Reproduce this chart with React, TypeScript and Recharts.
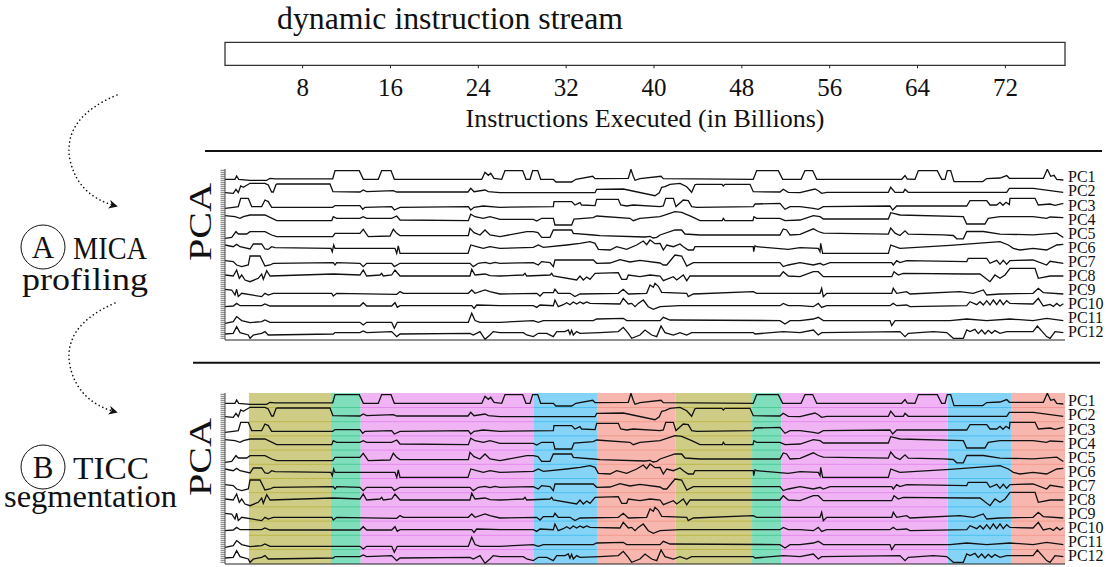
import React from 'react'
import { ComposedChart, Line, XAxis, YAxis, ReferenceArea, ReferenceLine } from 'recharts'

const SERIF = 'Liberation Serif, DejaVu Serif, Noto Serif, Times New Roman, Times, serif'

// instructions executed, in billions
const X_MIN = 0.93
const X_MAX = 77.43
const X_TICKS = [8, 16, 24, 32, 40, 48, 56, 64, 72]

const PC_NAMES = ['PC1', 'PC2', 'PC3', 'PC4', 'PC5', 'PC6', 'PC7', 'PC8', 'PC9', 'PC10', 'PC11', 'PC12']

// PCA traces, [billions, score] breakpoints
const PC1 = [[0.93,0],[1.84,0],[1.99,3.3],[2.18,0],[3.21,-1],[4.73,-1],[5.03,1],[5.48,0.5],[10.74,0.5],[10.95,8.7],[13.16,8.7],[13.53,0],[14.89,0],[15.2,8.7],[16.05,8.7],[16.35,0],[24.31,0],[24.61,7],[24.91,4],[25.13,6],[25.43,1],[26.13,0],[26.43,8.7],[28.04,8.7],[28.34,0],[28.71,0],[28.95,8.7],[29.41,8.7],[29.68,0],[30.83,0],[31.07,-2.7],[32.5,-2.7],[32.89,0],[34.42,3],[34.63,0.7],[37.66,1],[37.9,10],[38.11,3],[38.27,-1],[38.73,0.7],[40.64,3],[40.85,0.7],[49.04,0],[49.35,8.7],[51.32,8.7],[51.72,0],[53.39,0],[53.75,8.7],[54.45,8.7],[54.82,0],[62.56,0],[62.86,3.7],[63.07,0.3],[63.77,0],[64.07,8.7],[65.8,8.7],[66.2,0],[66.5,0],[66.71,8.7],[67.02,8.7],[67.32,-2.3],[69.94,-2.3],[70.3,0.7],[71.51,1.3],[72.12,3.7],[72.36,1],[75.46,1],[75.82,10],[76.13,3],[76.43,4],[76.68,0],[77.28,-0.7]]
const PC2 = [[0.93,-0.7],[1.68,-1.3],[1.93,2.7],[2.14,-0.7],[2.36,6],[2.6,4.7],[3.21,8.7],[4.57,8.7],[4.87,7],[5.18,0],[5.33,0],[5.57,7.3],[5.66,8],[10.49,8],[10.76,0.3],[13.22,0],[13.52,2],[13.83,0.3],[16.26,1.3],[16.57,0],[23.06,0],[23.31,3.7],[23.61,0.3],[24.61,2],[24.91,0.3],[25.97,-0.7],[34.63,-0.7],[34.78,2.7],[37.2,3],[40.09,-3.7],[40.48,-0.7],[40.7,4.7],[41.0,5.3],[41.46,7.7],[42.37,8.7],[42.98,5.3],[43.43,-0.3],[43.73,7.3],[43.89,7.7],[46.19,7.7],[46.31,6],[46.46,7.7],[48.74,7.7],[49.04,0.3],[51.47,0],[51.77,2.7],[52.23,-0.3],[53.3,-0.7],[54.66,3],[54.96,1.3],[55.27,-1.3],[55.73,-0.3],[61.34,-0.3],[61.56,4.7],[61.95,-0.3],[62.7,-0.3],[62.86,2.7],[63.16,-0.3],[72.12,-0.3],[72.36,3.7],[74.54,3.7],[77.27,-0.3]]
const PC3 = [[0.93,-1],[1.68,0],[2.14,0.7],[2.36,9],[3.05,9],[3.36,0.7],[4.27,0.7],[4.57,7.3],[4.87,5.7],[5.18,0],[10.74,0],[10.95,1.7],[13.22,1.7],[13.47,-2],[13.68,0],[16.11,0.7],[16.35,-2.7],[16.87,0],[23.09,0.7],[23.31,-2.7],[23.61,0],[24.45,1.3],[25.97,0],[30.83,0.7],[30.89,5.7],[32.5,5.7],[32.8,2.3],[33.26,4.7],[33.41,2.3],[34.63,1.7],[34.78,8],[36.75,8],[36.97,2.3],[37.51,1.3],[38.11,2.3],[40.55,0.7],[40.85,1.3],[41.07,9],[41.76,9],[42.0,0.7],[42.67,7.3],[43.12,6.7],[43.43,0.7],[43.89,0],[49.04,0.7],[49.2,3.3],[51.47,4],[51.93,-2],[52.39,0.7],[53.3,0.7],[54.51,-1],[54.96,-2],[55.42,0.7],[61.49,1.3],[61.74,-2.7],[62.1,1.3],[68.48,1.3],[68.78,6.7],[70.3,6.7],[70.6,2.3],[71.21,2.3],[71.51,5],[71.78,2],[72.06,5],[72.36,2.7],[72.42,9],[74.7,9],[75.0,2.3],[76.07,3.3],[76.52,2],[77.28,4]]
const PC4 = [[0.93,4.3],[1.84,3.3],[2.3,1.7],[2.6,3.3],[3.21,5],[4.57,5],[5.64,-0.7],[10.65,-0.7],[10.79,3.3],[11.1,1.7],[13.22,1.7],[13.52,3.3],[13.83,1.7],[16.11,1.7],[16.57,4],[16.87,0],[23.09,-0.7],[23.31,5.7],[23.7,3.3],[24.45,1.7],[25.06,3.3],[25.97,0.7],[29.01,0.7],[29.32,-1],[29.77,1.7],[30.83,1.7],[30.98,-5],[32.5,-5],[32.71,1],[34.47,2.3],[34.78,4],[37.81,1.7],[38.11,-0.7],[38.72,1.7],[40.55,3.3],[41.91,8.3],[42.52,7.7],[43.43,3.3],[44.19,-0.7],[46.22,-0.7],[46.31,1.7],[46.46,-0.7],[49.01,-0.7],[49.1,3.3],[49.35,1.7],[51.47,1.7],[51.93,-0.7],[53.3,0],[54.51,4.3],[55.12,3.3],[55.42,1],[61.34,1],[61.56,7.3],[62.4,5],[68.17,3.3],[68.48,-4],[70.14,-4],[70.44,1.7],[71.51,3.3],[74.52,3.3],[75.76,1.7],[76.07,3],[77.28,2.3]]
const PC5 = [[0.93,-1],[1.54,0],[1.93,5.7],[2.14,3.3],[2.91,3.3],[3.21,5.7],[4.57,5.7],[5.18,2.3],[5.64,0.7],[10.74,0.7],[10.95,4],[13.22,4],[13.52,8],[13.98,0.7],[15.96,1.3],[16.26,8],[16.57,4],[16.87,1.7],[23.09,1.7],[23.24,9],[23.61,4.7],[24.15,2.3],[24.61,7.3],[25.06,2.3],[25.97,0.7],[28.41,5.7],[29.01,5.7],[29.43,4.7],[29.77,0],[30.53,0],[30.83,7.3],[32.5,7.3],[32.65,4],[34.47,2.3],[35.08,1.7],[39.18,0.3],[39.64,1],[39.91,-0.7],[40.25,0],[40.55,2.3],[41.91,7.3],[42.52,7.3],[42.82,3.3],[44.19,2.3],[51.47,2.3],[51.77,8.3],[52.08,7.3],[52.39,2.3],[53.3,3],[54.51,8.5],[54.96,5.8],[55.42,4.2],[61.34,3.2],[61.56,9.2],[61.95,4.2],[62.4,1.8],[62.86,6.5],[63.16,3.2],[66.35,2.5],[67.26,1.8],[67.57,-1.5],[68.17,-1.5],[68.48,5.8],[69.99,5.8],[71.51,3.2],[74.52,2.5],[76.68,4.2],[77.28,-0.2]]
const PC6 = [[0.93,3.7],[1.68,2],[1.99,4.3],[2.3,2],[3.21,-0.3],[3.51,4.7],[4.27,4.7],[4.57,-0.3],[4.87,-0.7],[5.18,2],[5.48,1],[10.58,0.3],[10.7,-3],[10.83,3.7],[10.95,0.3],[16.41,0.3],[16.57,-4.7],[16.71,2.7],[16.87,-4.7],[23.06,-4.7],[23.31,3.7],[23.85,2],[24.45,0.3],[25.06,2],[25.97,0.3],[29.01,1.3],[29.46,3.7],[29.92,1.3],[32.05,3.7],[33.26,5.3],[34.17,7],[34.63,5.3],[34.93,-0.7],[35.99,-1.3],[36.6,2],[37.51,-0.7],[38.42,3.7],[39.02,7.7],[39.33,4],[39.64,8.7],[40.09,5],[40.55,5.3],[40.85,-1.3],[41.16,3.7],[41.76,2],[42.37,4.7],[42.67,2],[43.12,-1.3],[43.58,-1.3],[43.73,2],[49.04,2],[49.08,-3],[49.2,3],[49.35,2],[52.23,-0.7],[53.3,1],[54.96,0.3],[55.12,-3],[55.18,5.3],[55.36,-4.7],[55.57,-4.7],[61.34,-4.7],[61.56,3.7],[61.95,2],[62.4,0.3],[66.96,3.3],[71.51,7],[72.27,3.7],[72.72,0.3],[73.33,-1.3],[74.52,0.3],[75.76,-1.3],[76.68,3.7],[77.28,4.3]]
const PC7 = [[0.93,2.7],[1.68,1.7],[1.99,-1.7],[2.45,-3.3],[3.05,-1.7],[3.21,7.3],[4.12,7.3],[4.57,-2.7],[5.03,-1.7],[5.33,0],[10.79,0.7],[10.95,-1.7],[11.1,0.7],[13.22,0],[13.52,-3.3],[13.83,0],[16.11,0],[16.35,-3.3],[16.87,0],[23.24,0],[23.54,-3.3],[24.0,0],[24.61,1],[25.06,-0.3],[25.52,1],[25.97,0],[29.01,0.7],[29.46,-1.7],[29.77,1.7],[30.53,0.7],[30.83,-3.3],[30.98,3.3],[34.47,3.3],[34.78,0],[35.99,0.3],[36.9,3.7],[37.81,1.3],[38.72,3],[40.55,0.3],[40.85,-1.7],[41.16,-1.7],[41.91,8.3],[42.52,7.3],[42.98,-2.7],[43.58,0.7],[51.47,0.7],[51.77,-3.3],[52.23,-1.7],[53.3,0.7],[54.51,-1.7],[55.12,0],[55.42,-1.7],[56.03,0.7],[61.65,0.7],[61.79,-1.7],[62.1,2.7],[62.4,0.7],[63.01,2.7],[68.48,1.7],[68.62,5],[70.3,5],[70.6,0],[71.21,3],[71.51,-1],[71.81,3],[72.12,-1],[72.42,2.7],[74.52,3.3],[75.76,-1.7],[76.07,2],[77.28,0]]
const PC8 = [[0.93,1],[1.68,0],[1.99,6],[2.23,-2.3],[2.45,1],[2.75,-4],[3.21,-5.7],[3.96,-2.3],[4.27,2],[4.42,-3.3],[4.73,5.3],[5.03,0],[10.79,2],[13.22,1],[13.52,6],[13.83,0],[15.05,1],[15.2,2.7],[15.35,0],[16.11,1],[16.41,6],[16.87,0],[23.24,0],[23.4,6.7],[23.7,1],[24.61,2],[25.06,0.3],[25.97,0],[28.1,1],[28.25,2.7],[28.41,0],[30.53,1],[30.68,2.7],[30.83,0],[32.96,-4],[33.26,0],[33.56,-4],[33.87,-1],[34.17,-3.3],[34.63,2.7],[36.75,3.3],[37.06,-3.3],[37.51,-3.3],[37.66,1],[38.72,-0.7],[39.64,1],[40.55,0],[40.85,-4.7],[41.76,-0.7],[42.07,-4],[42.67,1],[42.98,-4.7],[43.28,0],[51.47,0],[51.77,4.3],[52.23,0],[53.3,-0.7],[54.51,4.3],[54.96,4.3],[55.42,-0.7],[61.65,-0.7],[61.86,4.3],[62.25,1],[62.7,2.7],[68.48,2],[69.69,2],[70.6,-5.7],[71.05,1],[71.51,-2.3],[71.97,1],[72.42,7.7],[74.7,7.7],[75.0,-2.3],[76.07,0],[77.28,0]]
const PC9 = [[0.93,4],[1.54,3.3],[1.84,-1.7],[1.99,4],[2.14,-3.3],[2.45,0],[4.27,-3.3],[4.57,0],[4.87,-1.7],[5.33,0],[10.65,0],[10.79,-2.7],[11.1,0],[16.57,-1],[16.87,1.7],[17.17,0],[23.09,0],[23.4,3.3],[23.7,0],[24.61,3.3],[25.06,1.7],[25.97,-0.7],[29.32,0],[29.62,-2.7],[29.92,0.7],[30.83,0.7],[30.98,4],[31.28,0],[32.35,0],[32.8,-3.3],[33.26,-0.7],[36.75,0],[37.2,4],[37.66,-0.7],[39.33,0],[39.64,8.3],[39.94,6],[40.09,10],[40.39,7],[40.7,1],[42.98,0],[43.12,-3.3],[43.58,-0.7],[49.04,1.7],[49.35,0],[53.3,0],[55.12,0],[55.27,5],[55.42,-3.3],[55.73,0],[61.65,0],[61.79,5],[62.1,0],[63.01,1.7],[63.31,-0.7],[67.87,1.7],[69.08,0],[69.99,3.3],[70.3,-1.7],[71.51,-0.7],[74.52,0],[75.0,5],[75.45,0.7],[77.28,-0.7]]
const PC10 = [[0.93,-1],[1.68,-0.3],[1.99,2.3],[2.3,0],[4.27,0],[4.57,1.7],[5.03,-0.3],[13.22,-0.3],[13.52,3],[13.83,-0.3],[16.11,-0.3],[16.41,3],[16.62,-1.7],[16.87,0],[23.4,0],[23.61,-2.7],[23.85,0.7],[25.97,0],[29.01,0],[29.32,-1.7],[29.62,0.7],[30.83,0],[30.98,5.7],[31.28,-1],[31.74,1],[32.05,3],[32.35,1],[32.65,3.7],[32.96,1.7],[33.26,3.7],[33.56,2],[33.87,3.7],[34.17,2.3],[36.9,1.7],[37.2,7.3],[37.66,1.7],[37.97,2.3],[38.27,-1],[38.57,2.3],[39.02,5.7],[39.48,-1],[39.94,-3.7],[40.55,-1],[42.37,0],[51.47,0],[51.77,2.3],[52.23,0],[53.3,0],[54.51,-1],[54.96,2.3],[55.27,-1.7],[55.73,0],[61.49,0],[61.79,2.3],[62.1,0],[63.01,0.7],[63.31,-1],[68.48,0],[68.78,4],[69.39,1],[69.69,4],[69.99,0.7],[70.3,5],[70.6,0.7],[70.9,5.7],[71.21,1],[71.51,5.7],[71.81,1],[72.12,5],[72.42,2.3],[74.52,1.7],[75.0,7.3],[75.45,-0.3],[76.07,1.3],[76.37,-0.7],[76.68,2.3],[76.97,-0.3],[77.28,2]]
const PC11 = [[0.93,-1],[1.68,0.7],[1.99,5.7],[2.45,1.7],[3.21,-0.3],[4.27,0.7],[4.57,2.3],[5.03,0],[13.22,0],[13.52,-2.7],[13.83,0],[16.11,0],[16.35,-6],[16.62,0],[23.09,0],[23.4,9],[23.7,1.7],[24.15,0],[25.97,0],[29.01,1.7],[29.46,0],[29.92,1.7],[34.47,1.7],[34.78,3.3],[37.2,4],[37.51,1.7],[40.55,1.7],[40.85,5],[41.46,2.3],[51.47,1.7],[51.93,-1.7],[52.39,1.7],[53.3,1.7],[54.51,3.3],[54.96,5],[55.42,1.7],[61.49,1.7],[61.65,-3.3],[61.95,1.7],[66.96,1.7],[68.48,3.3],[70.3,1.7],[72.42,3.3],[74.52,1.7],[75.76,4],[77.28,1.7]]
const PC12 = [[0.93,-0.7],[1.68,0],[1.99,6.7],[2.3,0.7],[3.05,-1.7],[3.21,-5],[3.51,-1.7],[4.27,0],[4.57,1.7],[4.87,-1.7],[10.79,-0.7],[10.95,0.7],[13.22,0.7],[13.52,2.3],[13.83,0.7],[16.11,1.7],[16.57,-3.3],[16.87,-0.7],[23.24,0],[23.54,-1.7],[24.15,1.7],[24.61,-6],[25.06,-1.7],[25.36,1.7],[25.97,0.7],[28.1,0.7],[28.41,-1.7],[29.01,-3.3],[29.46,0],[30.23,0],[30.83,-3.3],[31.14,1.7],[31.89,1.7],[32.2,3.3],[32.35,-1],[32.5,3],[32.65,-1.7],[32.96,1.7],[33.26,0],[35.08,0.7],[36.75,1.7],[37.2,6],[37.66,0],[37.97,-5],[38.72,-1.7],[39.18,3.3],[39.79,-1.7],[40.25,-3.3],[40.64,7.3],[41.0,0.7],[41.76,-1.7],[42.37,0.7],[42.98,-1.7],[43.43,0.7],[49.04,0.7],[49.2,-0.7],[51.77,1.7],[53.3,0.7],[54.51,3.3],[54.96,-1.7],[55.27,0.7],[62.4,1.7],[62.86,-3.3],[63.16,0],[65.44,1.7],[66.66,0.7],[67.26,-5],[68.17,-5],[68.48,3.3],[68.78,1.7],[69.23,4],[69.53,-0.3],[69.84,3.3],[70.14,-0.7],[70.44,3],[70.75,0],[71.05,2.7],[71.51,0],[72.12,1.7],[73.03,1.7],[74.52,1.7],[74.91,7.3],[75.76,-3.3],[76.07,-5],[76.52,1.7],[77.28,0.7]]
const PCS = [PC1, PC2, PC3, PC4, PC5, PC6, PC7, PC8, PC9, PC10, PC11, PC12]

// TICC segmentation: segment edges (billions) and the cluster of each segment
const SEG_EDGES = [3.11, 10.58, 13.29, 29.07, 34.81, 41.94, 48.93, 51.63, 66.75, 72.51, 77.43]
const SEG_CLUSTER = [0, 1, 2, 3, 4, 0, 1, 2, 3, 4]

// the instruction stream bar spans the whole run
const STREAM = [{ x: X_MIN, y: 0 }, { x: X_MAX, y: 1 }]

// layout / style
const CLUSTER_FILL = ['#cfcd85', '#7fdebc', '#f0b4f5', '#85d4f7', '#f8b7ae']
const CLUSTER_LINE = ['#bdb749', '#4fcb98', '#e58aee', '#4cc0f0', '#f29a8f']
const OFFSETS = [154, 141.3, 126, 113.3, 96, 84.6, 70, 57.3, 40, 27.6, 11, 0]
const LABEL_LEVELS = [156.6, 142.5, 128.4, 114.3, 100.2, 86.1, 72, 57.9, 43.8, 29.7, 15.6, 1.5]
const BAND_LINES = [149.8, 135.6, 121.4, 107.2, 93, 78.8, 64.6, 50.4, 36.2, 22, 7.8]
const Y_MIN = -6.7
const Y_MAX = 164.3
const Y_MINOR = Array.from({ length: 85 }, (_, i) => -5 + i * 2)

const AxisTitle = (props: any) => {
  const vb = props.viewBox || { x: 225, y: 65, width: 840 }
  return (
    <text x={vb.x + vb.width / 2} y={vb.y + 62} textAnchor="middle" fontFamily={SERIF} fontSize={26} fill="#111">
      Instructions Executed (in Billions)
    </text>
  )
}

// short ruler-like ticks on the left spine of each PCA panel
const MinorTick = (props: any) => (
  <line x1={props.x - 4.5} x2={props.x} y1={props.y} y2={props.y} stroke="#555" strokeWidth={0.8} />
)

function StreamBar() {
  return (
    <div style={{ position: 'absolute', left: 0, top: 0 }}>
      <ComposedChart width={1110} height={140} data={STREAM} margin={{ top: 42.3, right: 45, bottom: 14.7, left: 215 }}>
        <XAxis dataKey="x" type="number" domain={[X_MIN, X_MAX]} ticks={X_TICKS} interval={0} allowDataOverflow height={60}
          axisLine={false} tickSize={3} tickMargin={10} stroke="#222"
          tick={{ fontSize: 25, fontFamily: SERIF, fill: '#111' }} label={<AxisTitle />} />
        <YAxis type="number" domain={[0, 1]} width={10} tick={false} tickLine={false} axisLine={false} />
        <ReferenceArea x1={X_MIN} x2={X_MAX} y1={0} y2={1} ifOverflow="visible" fill="#fff" fillOpacity={1} stroke="#333" strokeWidth={1.3} />
        <Line dataKey="y" stroke="none" dot={false} activeDot={false} isAnimationActive={false} />
      </ComposedChart>
    </div>
  )
}

function Panel({ top, segmented }: { top: number; segmented: boolean }) {
  return (
    <div style={{ position: 'absolute', left: 0, top }}>
      <ComposedChart width={1110} height={200} margin={{ top: 10, right: 45, bottom: 9, left: 215 }}>
        <XAxis dataKey="x" type="number" domain={[X_MIN, X_MAX]} ticks={X_TICKS} interval={0} allowDataOverflow height={10}
          tick={false} tickSize={3} stroke="#222" />
        <YAxis yAxisId="l" type="number" domain={[Y_MIN, Y_MAX]} ticks={Y_MINOR} interval={0} allowDataOverflow width={10}
          tick={<MinorTick />} tickLine={false} tickSize={0} tickMargin={0} stroke="#444" />
        {segmented && SEG_CLUSTER.map((c, i) => (
          <ReferenceArea key={'a' + i} yAxisId="l" x1={SEG_EDGES[i]} x2={SEG_EDGES[i + 1]} y1={Y_MIN} y2={Y_MAX}
            fill={CLUSTER_FILL[c]} fillOpacity={1} stroke="none" />
        ))}
        {segmented && SEG_CLUSTER.map((c, i) => BAND_LINES.map((lv, j) => (
          <ReferenceLine key={`l${i}-${j}`} yAxisId="l" segment={[{ x: SEG_EDGES[i], y: lv }, { x: SEG_EDGES[i + 1], y: lv }]}
            stroke={CLUSTER_LINE[c]} strokeWidth={1} />
        )))}
        {PC_NAMES.map((name, k) => (
          <ReferenceLine key={'n' + name} yAxisId="l" y={LABEL_LEVELS[k]} stroke="none"
            label={{ value: name, position: 'right', offset: 3, fontSize: 16, fontFamily: SERIF, fill: '#111' }} />
        ))}
        {PCS.map((pc, k) => (
          <Line key={PC_NAMES[k]} yAxisId="l" data={pc.map(([x, y]) => ({ x, y: y + OFFSETS[k] }))} dataKey="y" type="linear"
            dot={false} activeDot={false} stroke="#111" strokeWidth={1.3} isAnimationActive={false} />
        ))}
      </ComposedChart>
    </div>
  )
}

function Annotations() {
  const txt = { fontFamily: SERIF, fill: '#111' }
  return (
    <svg width={1110} height={567} style={{ position: 'absolute', left: 0, top: 0, pointerEvents: 'none' }}>
      <defs>
        <marker id="ah" viewBox="0 0 10 10" refX="8" refY="5" markerWidth="9" markerHeight="9" orient="auto" markerUnits="userSpaceOnUse">
          <path d="M0,0 L10,5 L0,10 L3,5 z" fill="#111" />
        </marker>
      </defs>
      <text x={450} y={28.5} textAnchor="middle" fontSize={31} textLength={346} lengthAdjust="spacingAndGlyphs" {...txt}>dynamic instruction stream</text>
      <line x1={205} y1={151} x2={1102} y2={151} stroke="#111" strokeWidth={2} />
      <line x1={193} y1={362.7} x2={1100} y2={362.7} stroke="#111" strokeWidth={2} />
      <text transform="translate(211,222) rotate(-90)" textAnchor="middle" fontSize={31} textLength={78} lengthAdjust="spacingAndGlyphs" {...txt}>PCA</text>
      <text transform="translate(211,457) rotate(-90)" textAnchor="middle" fontSize={31} textLength={78} lengthAdjust="spacingAndGlyphs" {...txt}>PCA</text>

      <path d="M117,95 Q62,118 70,160 Q78,196 116,206" fill="none" stroke="#111" strokeWidth={1.6}
        strokeDasharray="0.1 4" strokeLinecap="round" markerEnd="url(#ah)" />
      <path d="M115,303 Q62,326 70,366 Q78,402 116,412" fill="none" stroke="#111" strokeWidth={1.6}
        strokeDasharray="0.1 4" strokeLinecap="round" markerEnd="url(#ah)" />

      <circle cx={43} cy={247} r={22} fill="none" stroke="#111" strokeWidth={1} />
      <text x={43} y={258} textAnchor="middle" fontSize={31} {...txt}>A</text>
      <text x={73} y={258.5} fontSize={31} textLength={74} lengthAdjust="spacingAndGlyphs" {...txt}>MICA</text>
      <text x={22} y={290} fontSize={31} textLength={126} lengthAdjust="spacingAndGlyphs" {...txt}>profiling</text>

      <circle cx={43} cy={467} r={22} fill="none" stroke="#111" strokeWidth={1} />
      <text x={43} y={478} textAnchor="middle" fontSize={31} {...txt}>B</text>
      <text x={73} y={478.5} fontSize={31} textLength={76} lengthAdjust="spacingAndGlyphs" {...txt}>TICC</text>
      <text x={4} y={507} fontSize={31} textLength={173} lengthAdjust="spacingAndGlyphs" {...txt}>segmentation</text>
    </svg>
  )
}

export default function App() {
  return (
    <div style={{ position: 'absolute', left: 0, top: 0, width: 1110, height: 567, background: '#fff', overflow: 'hidden' }}>
      <StreamBar />
      <Panel top={159} segmented={false} />
      <Panel top={382.5} segmented />
      <Annotations />
    </div>
  )
}
